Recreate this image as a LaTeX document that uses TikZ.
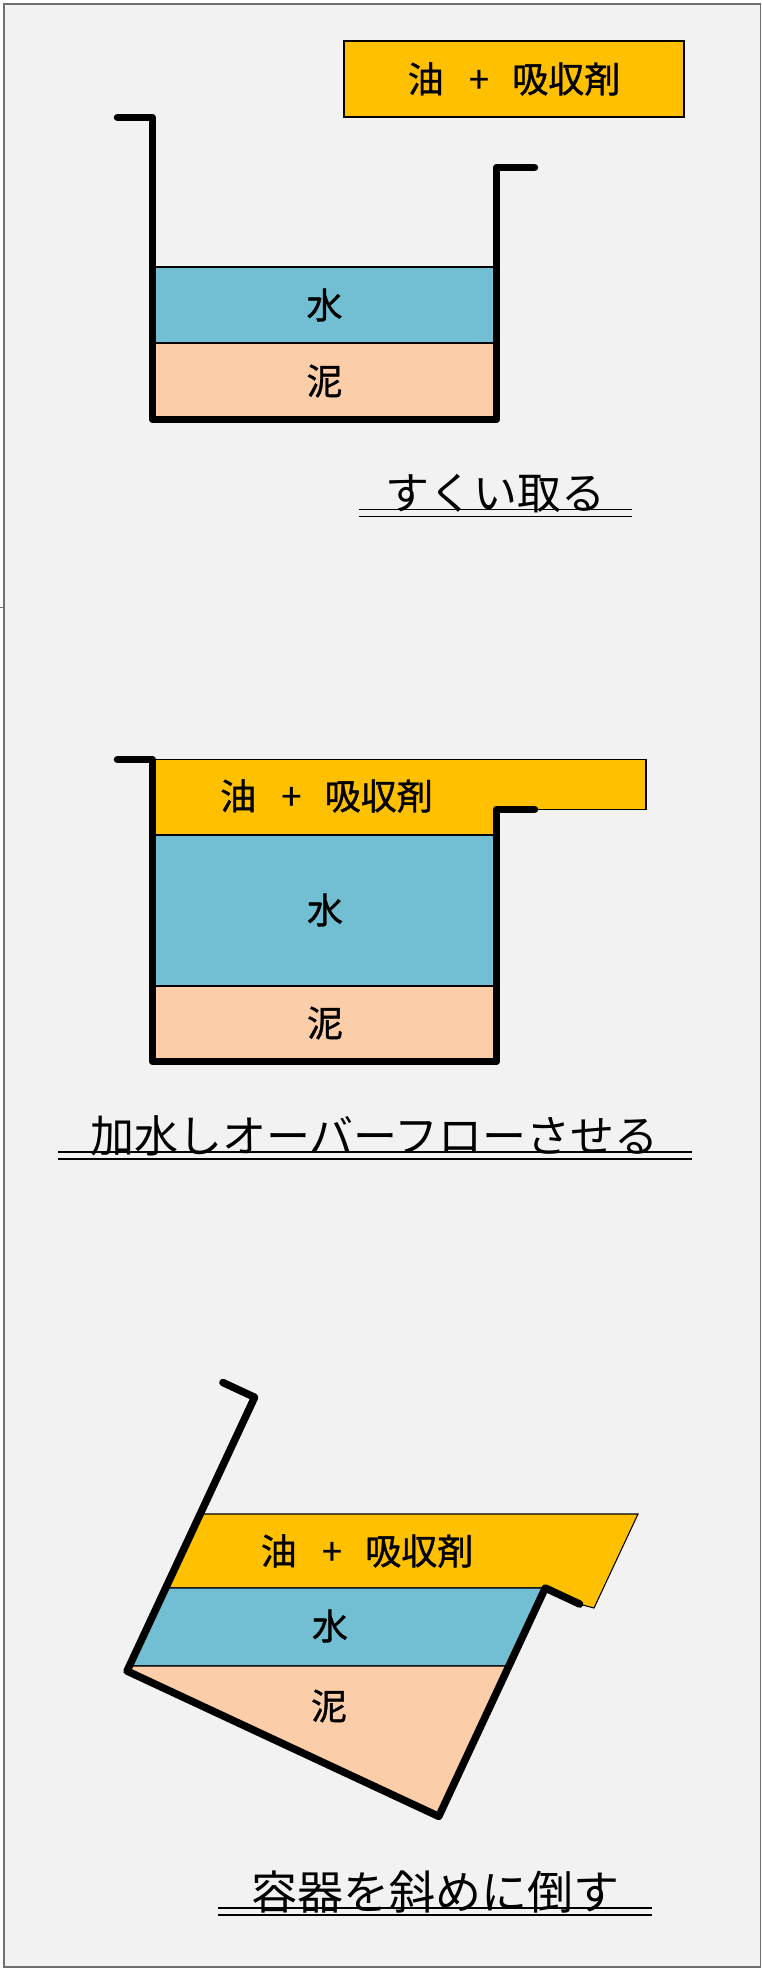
\documentclass[tikz,border=0pt]{standalone}
\usepackage{fontspec}
\setmainfont{Noto Sans CJK JP}
\newfontfamily\lblfont[FakeBold=1]{Noto Sans CJK JP}
\usetikzlibrary{calc}
\definecolor{oilOrange}{HTML}{FFC000}
\definecolor{waterBlue}{HTML}{72BFD3}
\definecolor{mudPeach}{HTML}{FBCDA8}
\definecolor{panelGray}{HTML}{F2F2F2}
\definecolor{frameGray}{HTML}{6F6F6F}
\newcommand{\oilmix}{油\hspace{0.7em}+\hspace{0.65em}吸収剤}
\tikzset{
  vessel/.style={line width=5.6pt, line cap=round, line join=round},
  layer/.style={draw=black, line width=0.8pt},
  lbl/.style={font=\lblfont\fontsize{27}{30}\selectfont, inner sep=0pt},
  caption/.style={font=\fontsize{33}{38}\selectfont, inner sep=0pt, anchor=base},
  dblrule/.style={line width=1.1pt},
}

\begin{document}
\begin{tikzpicture}[x=0.75pt, y=-0.75pt]
\useasboundingbox (0,0) rectangle (762,1968);
%% Panel frame
\draw[frameGray, fill=panelGray, line width=1.4pt] (4,4) rectangle (760.5,1967);
\draw[frameGray, line width=1.4pt] (0,607.5) -- (4,607.5);

%% Step 1: skim off
\draw[layer, fill=oilOrange] (344,41) rectangle (684,117);
\draw[layer, fill=waterBlue] (152.5,267) rectangle (496.5,343);
\draw[layer, fill=mudPeach]  (152.5,343) rectangle (496.5,419.5);
\draw[vessel, shift={(152.5,419.5)}]
  (-35,-302) -- (0,-302) -- (0,0) -- (344,0) -- (344,-252) -- (382,-252);
\node[lbl] (oil1)   at (514,79)    {\oilmix};
\node[lbl] (water1) at (324.5,305) {水};
\node[lbl] (mud1)   at (324.5,381) {泥};
\node[caption] (step1) at (495,509.5) {すくい取る};
\draw[dblrule] (359,509.7) -- (632,509.7);
\draw[dblrule] (359,516.7) -- (632,516.7);

%% Step 2: add water and overflow
\draw[layer, fill=oilOrange] (152.5,759.5) -- (646,759.5) -- (646,809.5)
  -- (496.5,809.5) -- (496.5,835) -- (152.5,835) -- cycle;
\draw[layer, fill=waterBlue] (152.5,835) rectangle (496.5,986);
\draw[layer, fill=mudPeach]  (152.5,986) rectangle (496.5,1061.5);
\draw[vessel, shift={(152.5,1061.5)}]
  (-35,-302) -- (0,-302) -- (0,0) -- (344,0) -- (344,-252) -- (382,-252);
\node[lbl] (oil2)   at (326.5,796) {\oilmix};
\node[lbl] (water2) at (325,910)   {水};
\node[lbl] (mud2)   at (325,1023)  {泥};
\node[caption] (step2) at (374.5,1152) {加水しオーバーフローさせる};
\draw[dblrule] (58,1152) -- (692,1152);
\draw[dblrule] (58,1159) -- (692,1159);

%% Step 3: tilt the vessel
\draw[layer, fill=oilOrange] (200.2,1514) -- (638,1514) -- (594,1608)
  -- (579.7,1604.1) -- (545.3,1588) -- (165.2,1588) -- cycle;
\draw[layer, fill=waterBlue] (165.2,1588) -- (545.3,1588) -- (508.9,1666)
  -- (129.3,1666) -- cycle;
\draw[layer, fill=mudPeach] (129.3,1666) -- (508.9,1666) -- (438.8,1816.4)
  -- (127,1671) -- cycle;
\draw[vessel, shift={(127,1671)}, rotate=-25]
  (-35,-302) -- (0,-302) -- (0,0) -- (344,0) -- (344,-252) -- (382,-252);
\node[lbl] (oil3)   at (367,1551) {\oilmix};
\node[lbl] (water3) at (330,1626) {水};
\node[lbl] (mud3)   at (329,1706) {泥};
\node[caption, font=\fontsize{34.5}{38}\selectfont] (step3) at (435,1909) {容器を斜めに倒す};
\draw[dblrule] (218,1908) -- (652,1908);
\draw[dblrule] (218,1915) -- (652,1915);
\end{tikzpicture}
\end{document}
